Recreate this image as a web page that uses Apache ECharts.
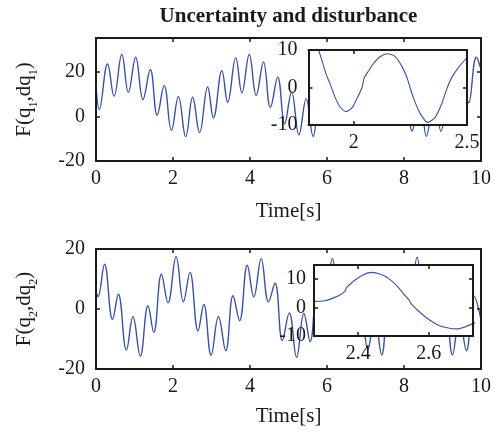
<!DOCTYPE html>
<html>
<head>
<meta charset="utf-8">
<script src="https://cdn.jsdelivr.net/npm/echarts@6/dist/echarts.min.js"></script>
<style>
  html, body { margin: 0; padding: 0; background: #fff; }
  #chart { width: 494px; height: 433px; }
</style>
</head>
<body>
<div id="chart"></div>
<script>
// Joint 1 lumped term: turning points of the signal over 0-10 s
const t1 = [0, 0.085, 0.30, 0.47, 0.67, 0.84, 1.03, 1.22, 1.41, 1.59,
            1.77, 1.96, 2.14, 2.33, 2.51, 2.69, 2.90, 3.05, 3.27, 3.42,
            3.63, 3.79, 3.98, 4.16, 4.35, 4.53, 4.72, 4.90, 5.08, 5.27,
            5.46, 5.64, 5.83, 6.01, 6.20, 6.38, 6.57, 6.75, 6.94, 7.12,
            7.31, 7.49, 7.68, 7.86, 8.05, 8.21, 8.42, 8.58, 8.79, 8.96,
            9.16, 9.34, 9.53, 9.68, 9.88, 10];
const f1 = [14.2, 3.0, 23.4, 9.0, 27.6, 10.7, 26.4, 7.5, 20.9, 0.5,
            13.7, -6.3, 8.8, -9.1, 8.5, -7.2, 13.1, -0.7, 20.4, 6.3,
            26.1, 10.5, 27.6, 9.4, 24.2, 4.0, 17.5, -3.4, 10.8, -8.3,
            7.8, -8.9, 10, -1, 17, 6, 23, 10.5, 27, 10.5,
            27, 6.5, 22, 0, 15, -6.6, 8.5, -8.9, 9, -6.7,
            13, -0.5, 20, 6.0, 26.4, 21];

// Joint 1 close-up, 1.8-2.5 s
const t1Zoom = [1.80, 1.82, 1.844, 1.878, 1.896, 1.918, 1.940, 1.966, 1.991, 2.013,
                2.036, 2.046, 2.065, 2.087, 2.116, 2.148, 2.182, 2.212, 2.234, 2.243,
                2.263, 2.293, 2.327, 2.359, 2.388, 2.410, 2.433, 2.462, 2.50];
const f1Zoom = [13.5, 12.2, 10.0, 3.5, 0.9, -2.7, -5.2, -6.4, -5.5, -3.1,
                0.0, 2.5, 4.4, 6.4, 8.2, 9.0, 8.3, 5.7, 2.8, 1.1,
                -2.7, -6.9, -9.3, -8.0, -4.4, -0.5, 2.7, 5.3, 8.0];

// Joint 2 lumped term: turning points over 0-10 s
const t2 = [0, 0.05, 0.22, 0.43, 0.58, 0.79, 0.96, 1.15, 1.35, 1.50,
            1.70, 1.87, 2.08, 2.27, 2.44, 2.65, 2.80, 2.99, 3.18, 3.37,
            3.56, 3.73, 3.93, 4.10, 4.29, 4.48, 4.65, 4.84, 5.02, 5.21,
            5.40, 5.56, 5.77, 5.94, 6.14, 6.31, 6.51, 6.68, 6.87, 7.06,
            7.24, 7.42, 7.61, 7.78, 7.97, 8.15, 8.34, 8.52, 8.71, 8.89,
            9.07, 9.26, 9.44, 9.62, 9.82, 10];
const f2 = [5.7, 4.1, 14.9, -3.5, 4.9, -13.7, -2.6, -15.7, 1.1, -7.8,
            11.6, 2.1, 17.4, 2.4, 12.2, -7.3, 1.5, -15.4, -2.6, -13.9,
            4.4, -3.9, 14.6, 4.1, 16.8, 2.4, 8.6, -10.5, -1.3, -16.1,
            -1.5, -10.9, 11, 2.5, 16.8, 3, 12, -7, 2, -13.5,
            -2.5, -15.3, 3, -5, 12, 3, 17.2, 2, 13, -8,
            2, -15.3, -2.5, -13.9, 4.3, -3.5];

// Joint 2 close-up, 2.275-2.725 s
const t2Zoom = [2.27, 2.275, 2.306, 2.334, 2.353, 2.364, 2.367, 2.391, 2.415, 2.438,
                2.462, 2.486, 2.509, 2.533, 2.544, 2.550, 2.570, 2.599, 2.627, 2.655,
                2.679, 2.702, 2.725, 2.75];
const f2Zoom = [2.2, 2.2, 2.4, 3.6, 4.8, 6.0, 7.0, 9.7, 11.6, 12.4,
                11.8, 10.3, 7.7, 4.2, 2.7, 1.3, -1.1, -4.1, -6.2, -7.2,
                -7.5, -6.8, -5.6, -4.2];

// Tick positions
const ticksTime = [0, 2, 4, 6, 8, 10];
const ticksMainY = [-20, 0, 20];
const ticksZoom1X = [2, 2.5];
const ticksZoom2X = [2.4, 2.6];
const ticksZoomY = [-10, 0, 10];

const FONT = 'Liberation Serif';
const INK = '#1a1a1a';
const LINE = '#3652aa';

const pairs = (xs, ys) => xs.map((x, i) => [x, ys[i]]);

const grids = [
  { left: 94, top: 38, width: 391, height: 123 },
  { left: 308.5, top: 50, width: 158.5, height: 75, z: 10, show: true, backgroundColor: '#fff', borderWidth: 0 },
  { left: 94, top: 249, width: 391, height: 120 },
  { left: 314, top: 265, width: 159, height: 71, z: 10, show: true, backgroundColor: '#fff', borderWidth: 0 }
];

function tickStyle(values) {
  return { show: true, inside: true, length: 4, customValues: values, lineStyle: { color: INK, width: 1.5 } };
}

function labels(margin, values) {
  return {
    show: true, margin: margin, color: INK, fontFamily: FONT, fontSize: 20,
    customValues: values
  };
}

// One side of a boxed axes frame; every frame side carries inward ticks
function frameAxis(grid, pos, min, max, values, opts) {
  const inset = grid % 2 === 1;
  const base = {
    type: 'value',
    gridIndex: grid,
    position: pos,
    min: min,
    max: max,
    z: inset ? 12 : 3,
    splitLine: { show: false },
    axisLine: { show: true, onZero: false, lineStyle: { color: INK, width: 2 } },
    axisTick: tickStyle(values),
    axisLabel: { show: false }
  };
  return Object.assign(base, opts || {});
}

const nameStyle = { color: INK, fontFamily: FONT, fontSize: 21 };

function yName(idx) {
  return {
    name: '{n|F(q}{s|' + idx + '}{n|,dq}{s|' + idx + '}{n|)}',
    nameLocation: 'middle',
    nameRotate: 90,
    nameGap: 56,
    nameTextStyle: {
      color: INK, fontFamily: FONT, fontSize: 21,
      rich: {
        n: { color: INK, fontFamily: FONT, fontSize: 21, lineHeight: 32 },
        s: { color: INK, fontFamily: FONT, fontSize: 12, lineHeight: 12, padding: [20, 0, 0, 0] }
      }
    }
  };
}

const xAxes = [
  frameAxis(0, 'bottom', 0, 10, ticksTime, {
    axisLabel: labels(8, ticksTime),
    name: 'Time[s]', nameLocation: 'middle', nameGap: 40, nameTextStyle: nameStyle
  }),
  frameAxis(0, 'top', 0, 10, ticksTime),
  frameAxis(1, 'bottom', 1.8, 2.5, ticksZoom1X, { axisLabel: labels(8, ticksZoom1X) }),
  frameAxis(1, 'top', 1.8, 2.5, ticksZoom1X),
  frameAxis(2, 'bottom', 0, 10, ticksTime, {
    axisLabel: labels(8, ticksTime),
    name: 'Time[s]', nameLocation: 'middle', nameGap: 37, nameTextStyle: nameStyle
  }),
  frameAxis(2, 'top', 0, 10, ticksTime),
  frameAxis(3, 'bottom', 2.275, 2.725, ticksZoom2X, { axisLabel: labels(8, ticksZoom2X) }),
  frameAxis(3, 'top', 2.275, 2.725, ticksZoom2X)
];

const yAxes = [
  frameAxis(0, 'left', -20, 35, ticksMainY, Object.assign({ axisLabel: labels(11, ticksMainY) }, yName(1))),
  frameAxis(0, 'right', -20, 35, ticksMainY),
  frameAxis(1, 'left', -10, 10, ticksZoomY, { axisLabel: labels(11, ticksZoomY) }),
  frameAxis(1, 'right', -10, 10, ticksZoomY),
  frameAxis(2, 'left', -20, 20, ticksMainY, Object.assign({ axisLabel: labels(11, ticksMainY) }, yName(2))),
  frameAxis(2, 'right', -20, 20, ticksMainY),
  frameAxis(3, 'left', -10, 15, ticksZoomY, { axisLabel: labels(8, ticksZoomY) }),
  frameAxis(3, 'right', -10, 15, ticksZoomY)
];

function curve(xIdx, yIdx, data, width, smooth, z) {
  return {
    type: 'line', xAxisIndex: xIdx, yAxisIndex: yIdx, data: data,
    showSymbol: false, smooth: smooth, clip: true, z: z,
    lineStyle: { color: LINE, width: width }, silent: true, animation: false
  };
}

const chart = echarts.init(document.getElementById('chart'), null, { renderer: 'canvas' });
chart.setOption({
  animation: false,
  backgroundColor: '#fff',
  grid: grids,
  xAxis: xAxes,
  yAxis: yAxes,
  series: [
    curve(0, 0, pairs(t1, f1), 1.4, 0.42, 2),
    curve(2, 2, pairs(t1Zoom, f1Zoom), 1.1, 0.25, 11),
    curve(4, 4, pairs(t2, f2), 1.4, 0.42, 2),
    curve(6, 6, pairs(t2Zoom, f2Zoom), 1.1, 0.25, 11)
  ],
  graphic: [{
    type: 'text', x: 288.5, y: 17, z: 20,
    style: {
      text: 'Uncertainty and disturbance',
      font: 'bold 21px "Liberation Serif"',
      fill: INK, textAlign: 'center', textVerticalAlign: 'middle'
    }
  }]
});
</script>
</body>
</html>
